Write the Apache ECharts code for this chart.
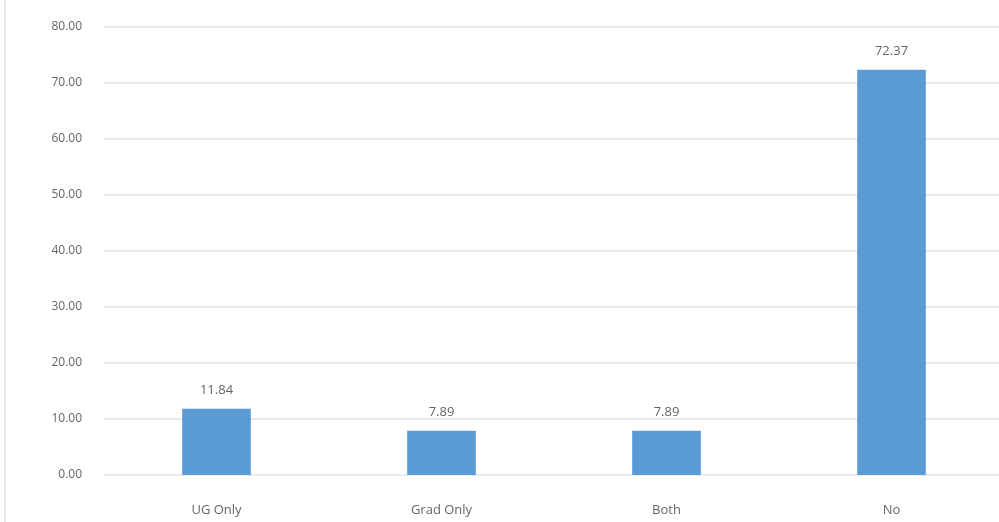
<!DOCTYPE html>
<html><head><meta charset="utf-8">
<script src="https://cdn.jsdelivr.net/npm/echarts@6/dist/echarts.min.js"></script>
<style>html,body{margin:0;padding:0;background:#fff;overflow:hidden;width:999px;height:522px}#c{width:1004px;height:522px}</style>
</head><body><div id="c"></div>
<script>
const categories = ["UG Only", "Grad Only", "Both", "No"];
const values = [11.84, 7.89, 7.89, 72.37];
const yMin = 0, yMax = 80, yStep = 10;

const chart = echarts.init(document.getElementById('c'));
chart.setOption({
  animation: false,
  textStyle: { fontFamily: 'Open Sans, Liberation Sans, sans-serif' },
  grid: { left: 104, top: 27, right: 0, bottom: 47 },
  graphic: [{ type: 'rect', shape: { x: 4, y: 0, width: 2, height: 522 }, style: { fill: '#e6e6e6' } }],
  xAxis: {
    type: 'category', data: categories,
    axisLine: { show: false }, axisTick: { show: false },
    axisLabel: { color: '#666', fontSize: 13, margin: 29 }
  },
  yAxis: {
    type: 'value', min: yMin, max: yMax, interval: yStep,
    axisLine: { show: false }, axisTick: { show: false },
    axisLabel: { color: '#666', fontSize: 12, margin: 22, formatter: v => v.toFixed(2) },
    splitLine: { lineStyle: { color: '#ebebeb', width: 2 } }
  },
  series: [{
    type: 'bar', data: values, barWidth: '30.5%',
    itemStyle: { color: '#5b9bd5' },
    label: { show: true, position: 'top', distance: 12, color: '#666', fontSize: 13, formatter: p => p.value.toFixed(2) }
  }]
});
</script></body></html>
